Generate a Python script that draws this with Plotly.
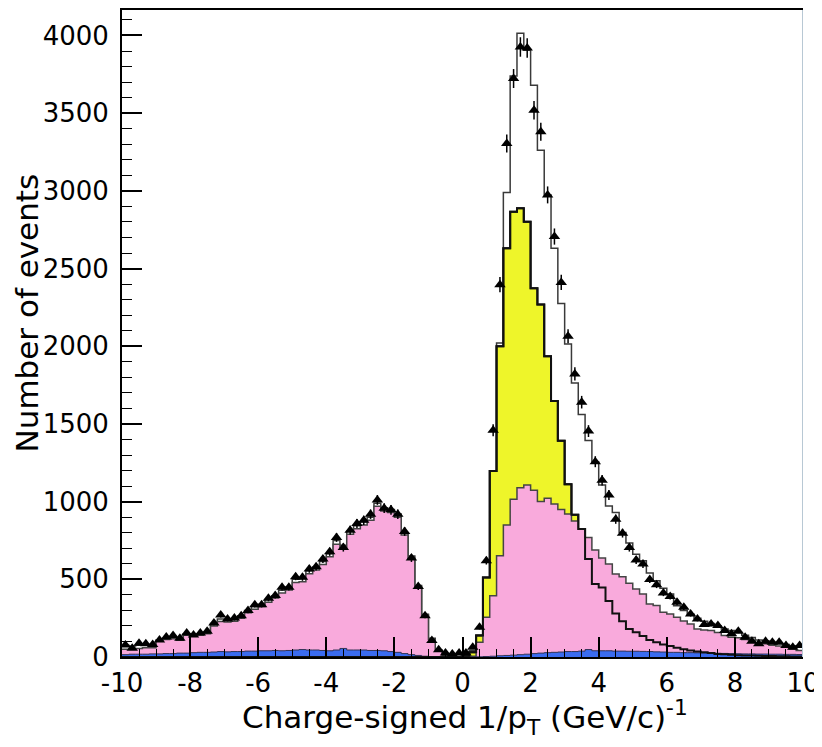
import numpy as np
import plotly.graph_objects as go

# 100 bins of width 0.2 between -10 and 10
x_min, x_max, n_bins = -10.0, 10.0, 100

data_counts = [
    78, 57, 89, 85, 81, 110, 128, 138, 121, 155, 142, 155, 166, 219, 270, 245, 251, 266, 299, 337,
    337, 378, 396, 449, 449, 517, 513, 566, 581, 630, 677, 769, 705, 816, 859, 880, 919, 1011, 958, 947,
    919, 808, 637, 453, 266, 106, 46, 25, 20, 25,
    25, 63, 191, 620, 1459, 2396, 3305, 3723, 3926, 3919, 3519, 3380, 2974, 2706, 2411, 2064, 1822, 1640, 1454, 1257,
    1138, 1043, 887, 797, 705, 624, 598, 498, 465, 412, 390, 352, 320, 277, 245, 209, 213, 202, 170, 149,
    166, 127, 101, 85, 101, 95, 95, 74, 63, 74,
]

total_mc = [
    75, 70, 75, 80, 80, 110, 120, 125, 115, 150, 145, 150, 160, 215, 245, 240, 245, 265, 300, 325,
    340, 370, 395, 430, 450, 500, 505, 555, 580, 615, 665, 750, 720, 810, 845, 870, 900, 990, 960, 950,
    920, 800, 650, 460, 275, 120, 45, 10, 5, 3,
    5, 40, 140, 512, 1197, 2021, 2990, 3740, 4015, 3905, 3680, 3262, 2974, 2631, 2275, 2015, 1764, 1561, 1394, 1255,
    1107, 972, 930, 801, 733, 662, 620, 540, 491, 442, 406, 330, 300, 275, 250, 230, 215, 200, 180, 170,
    160, 140, 125, 110, 105, 95, 88, 80, 72, 68,
]

yellow_mc = [
    0, 0, 0, 0, 0, 0, 0, 0, 0, 0, 0, 0, 0, 0, 0, 0, 0, 0, 0, 0,
    0, 0, 0, 0, 0, 0, 0, 0, 0, 0, 0, 0, 0, 0, 0, 0, 0, 0, 0, 0,
    0, 0, 0, 0, 0, 0, 0, 0, 0, 0,
    5, 31, 138, 512, 1197, 2000, 2631, 2866, 2888, 2802, 2374, 2268, 1936, 1647, 1392, 1112, 915, 823, 630, 470,
    448, 360, 280, 230, 180, 160, 135, 110, 95, 80, 70, 60, 50, 42, 35, 30, 25, 20, 17, 14,
    12, 10, 9, 8, 7, 6, 5, 5, 4, 4,
]

pink_mc = [
    50, 55, 55, 60, 60, 105, 112, 118, 108, 140, 135, 140, 150, 200, 228, 225, 230, 250, 285, 308,
    325, 352, 380, 412, 432, 480, 485, 535, 560, 595, 645, 725, 700, 790, 825, 850, 880, 970, 940, 930,
    900, 785, 635, 450, 268, 115, 40, 8, 3, 1,
    0, 5, 95, 256, 395, 652, 849, 1016, 1090, 1107, 1073, 1000, 1022, 985, 950, 920, 876, 823, 769, 688,
    637, 598, 534, 517, 474, 438, 406, 341, 331, 288, 277, 256, 231, 212, 180, 173, 170, 157, 138, 127,
    124, 112, 106, 90, 86, 76, 70, 65, 52, 42,
]

blue_mc = [
    15, 18, 18, 18, 20, 20, 22, 22, 25, 25, 28, 30, 30, 32, 35, 33, 35, 35, 38, 38,
    40, 40, 42, 40, 42, 45, 48, 45, 45, 42, 40, 45, 55, 45, 45, 45, 42, 42, 40, 35,
    30, 22, 15, 10, 5, 3, 1, 0, 0, 0,
    0, 0, 1, 3, 5, 8, 10, 12, 15, 18, 22, 25, 28, 30, 32, 35, 35, 38, 48, 40,
    40, 40, 38, 38, 37, 37, 36, 35, 33, 32, 30, 30, 28, 28, 27, 26, 25, 24, 23, 22,
    21, 20, 20, 19, 19, 18, 18, 17, 17, 16,
]

x_tick_vals = [-10, -8, -6, -4, -2, 0, 2, 4, 6, 8, 10]
x_tick_text = ["-10", "-8", "-6", "-4", "-2", "0", "2", "4", "6", "8", "10"]
y_tick_vals = [0, 500, 1000, 1500, 2000, 2500, 3000, 3500, 4000]
y_tick_text = ["0", "500", "1000", "1500", "2000", "2500", "3000", "3500", "4000"]

edges = np.linspace(x_min, x_max, n_bins + 1)
centers = 0.5 * (edges[:-1] + edges[1:])


def step_xy(vals):
    v = list(vals)
    return list(edges), v + [v[-1]]


FONT = "DejaVu Sans"
fig = go.Figure()

# total MC outline
sx, sy = step_xy(total_mc)
fig.add_trace(go.Scatter(x=sx, y=sy, mode="lines", line=dict(shape="hv", color="#3a3a3a", width=1.5),
                         hoverinfo="skip", showlegend=False))
# yellow filled
sx, sy = step_xy(yellow_mc)
fig.add_trace(go.Scatter(x=sx, y=sy, mode="lines", fill="tozeroy", fillcolor="#eef52a",
                         line=dict(shape="hv", color="#111111", width=2), showlegend=False))
# pink filled
sx, sy = step_xy(pink_mc)
fig.add_trace(go.Scatter(x=sx, y=sy, mode="lines", fill="tozeroy", fillcolor="#f9aadc",
                         line=dict(shape="hv", color="#444444", width=1.5), showlegend=False))
# blue filled
sx, sy = step_xy(blue_mc)
fig.add_trace(go.Scatter(x=sx, y=sy, mode="lines", fill="tozeroy", fillcolor="#3a6cf0",
                         line=dict(shape="hv", color="#333355", width=1), showlegend=False))
# yellow outline on top
sx, sy = step_xy(yellow_mc)
fig.add_trace(go.Scatter(x=sx, y=sy, mode="lines", line=dict(shape="hv", color="#111111", width=2),
                         showlegend=False))
# data
fig.add_trace(go.Scatter(x=centers, y=data_counts, mode="markers",
                         marker=dict(symbol="triangle-up", size=10, color="black"),
                         error_y=dict(type="data", array=np.sqrt(data_counts), color="black",
                                      thickness=1.5, width=0),
                         showlegend=False))

fig.add_shape(type="line", xref="x", yref="paper", x0=10, x1=10, y0=0, y1=1,
              line=dict(color="#b8c8d4", width=2))

# the page body has an 8px margin: size the figure so the plot lands where the reference has it
fig.update_layout(
    width=814, height=739,
    margin=dict(l=114, r=19, t=0, b=90),
    paper_bgcolor="white", plot_bgcolor="white",
    font=dict(family=FONT, color="black"),
    xaxis=dict(range=[x_min, x_max], tickvals=x_tick_vals, ticktext=x_tick_text, ticks="inside",
               ticklen=20, tickwidth=1.5, tickcolor="black", showgrid=False, zeroline=False,
               showline=True, linecolor="black", linewidth=2, mirror=True,
               tickfont=dict(size=26, family=FONT), ticklabelstandoff=2,
               minor=dict(dtick=0.5, ticks="inside", ticklen=8, tickwidth=1.2, tickcolor="black")),
    yaxis=dict(range=[0, 4164], tickvals=y_tick_vals, ticktext=y_tick_text, ticks="inside",
               ticklen=20, tickwidth=1.5, tickcolor="black", showgrid=False, zeroline=False,
               showline=True, linecolor="black", linewidth=2,
               tickfont=dict(size=26, family=FONT), ticklabelstandoff=6,
               minor=dict(dtick=100, ticks="inside", ticklen=10, tickwidth=1.2, tickcolor="black")),
    annotations=[
        dict(text="Number of events", xref="paper", yref="paper", x=-0.1395, y=0.531,
             textangle=-90, showarrow=False, font=dict(size=31, family=FONT),
             xanchor="center", yanchor="middle"),
        dict(text="Charge-signed 1/p<sub>T</sub> (GeV/c)<sup>-1</sup>", xref="paper", yref="paper",
             x=0.503, y=-0.094, showarrow=False, font=dict(size=31, family=FONT),
             xanchor="center", yanchor="middle"),
    ],
)

fig.write_html("out.html")
